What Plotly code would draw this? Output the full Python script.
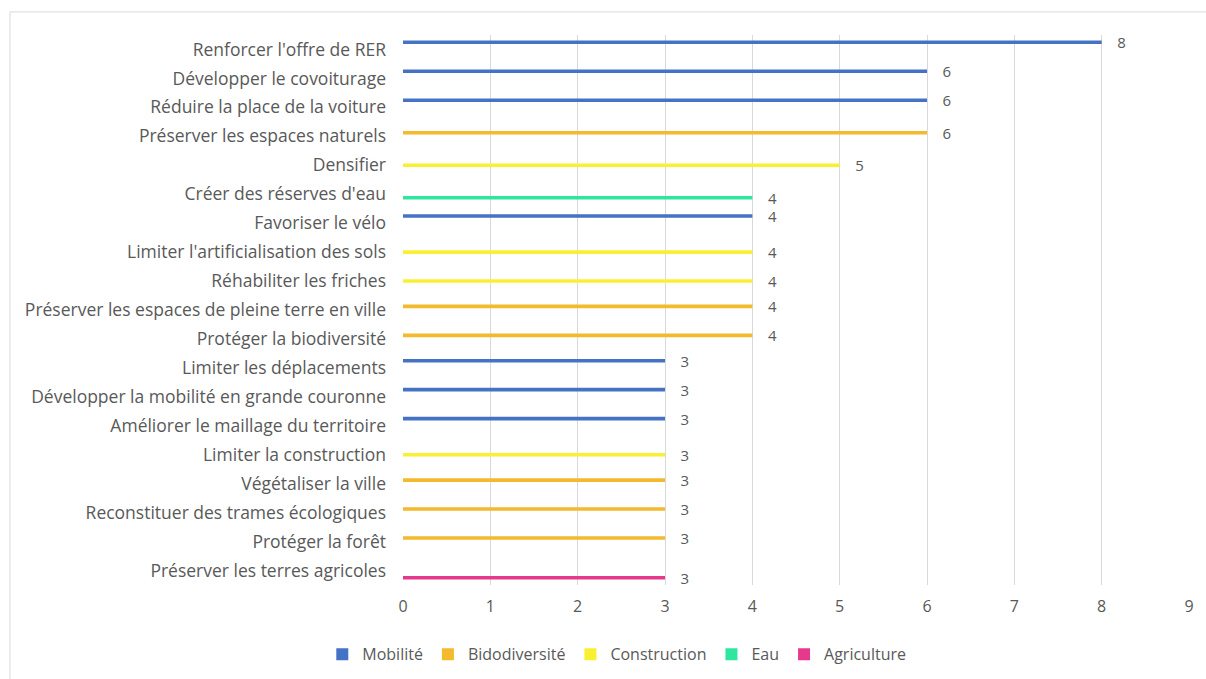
import plotly.graph_objects as go

# Actions cited, top to bottom, with their theme and number of mentions
actions = [
    "Renforcer l'offre de RER",
    "Développer le covoiturage",
    "Réduire la place de la voiture",
    "Préserver les espaces naturels",
    "Densifier",
    "Créer des réserves d'eau",
    "Favoriser le vélo",
    "Limiter l'artificialisation des sols",
    "Réhabiliter les friches",
    "Préserver les espaces de pleine terre en ville",
    "Protéger la biodiversité",
    "Limiter les déplacements",
    "Développer la mobilité en grande couronne",
    "Améliorer le maillage du territoire",
    "Limiter la construction",
    "Végétaliser la ville",
    "Reconstituer des trames écologiques",
    "Protéger la forêt",
    "Préserver les terres agricoles",
]
themes = [
    "Mobilité", "Mobilité", "Mobilité", "Bidodiversité", "Construction",
    "Eau", "Mobilité", "Construction", "Construction", "Bidodiversité",
    "Bidodiversité", "Mobilité", "Mobilité", "Mobilité", "Construction",
    "Bidodiversité", "Bidodiversité", "Bidodiversité", "Agriculture",
]
counts = [8, 6, 6, 6, 5, 4, 4, 4, 4, 4, 4, 3, 3, 3, 3, 3, 3, 3, 3]

series_names = ["Mobilité", "Bidodiversité", "Construction", "Eau", "Agriculture"]
series_colors = ["#4472C4", "#F2BA2C", "#FAF032", "#2EE6A0", "#E5398C"]

text_color = "#595959"
font_family = "Open Sans, Segoe UI, sans-serif"

fig = go.Figure()
for name, color in zip(series_names, series_colors):
    vals = [c if t == name else None for c, t in zip(counts, themes)]
    fig.add_trace(go.Bar(
        name=name,
        y=actions,
        x=vals,
        orientation="h",
        marker=dict(color=color, line=dict(width=0)),
        text=[f"{v}" if v is not None else "" for v in vals],
        texttemplate="    %{text}",
        textposition="outside",
        constraintext="none",
        cliponaxis=False,
        textfont=dict(size=15, color=text_color, family=font_family),
        outsidetextfont=dict(size=15, color=text_color, family=font_family),
    ))

fig.update_layout(
    width=1206,
    height=679,
    barmode="group",
    bargap=0.38,
    bargroupgap=0,
    plot_bgcolor="white",
    paper_bgcolor="white",
    margin=dict(l=403, r=17, t=35, b=94, autoexpand=False),
    font=dict(family=font_family, color=text_color, size=16),
    showlegend=True,
    legend=dict(
        orientation="h",
        x=0.272,
        xanchor="center",
        y=-0.095,
        yanchor="top",
        font=dict(size=16, color=text_color, family=font_family),
        itemwidth=30,
        traceorder="normal",
    ),
    xaxis=dict(
        range=[0, 9],
        tickvals=list(range(10)),
        showgrid=True,
        gridcolor="#D9D9D9",
        gridwidth=1,
        zeroline=False,
        showline=False,
        ticks="",
        tickfont=dict(size=16, color=text_color),
        ticklabelstandoff=10,
    ),
    yaxis=dict(
        autorange="reversed",
        showgrid=False,
        zeroline=False,
        showline=False,
        ticks="",
        tickfont=dict(size=17.5, color=text_color),
        ticklabelstandoff=16,
    ),
    shapes=[
        dict(
            type="rect", xref="paper", yref="paper",
            x0=-0.5, x1=1.2, y0=-0.3, y1=1.042,
            line=dict(color="#D9D9D9", width=1),
            fillcolor="rgba(0,0,0,0)",
            layer="below",
        )
    ],
)

fig.write_html("out.html")
